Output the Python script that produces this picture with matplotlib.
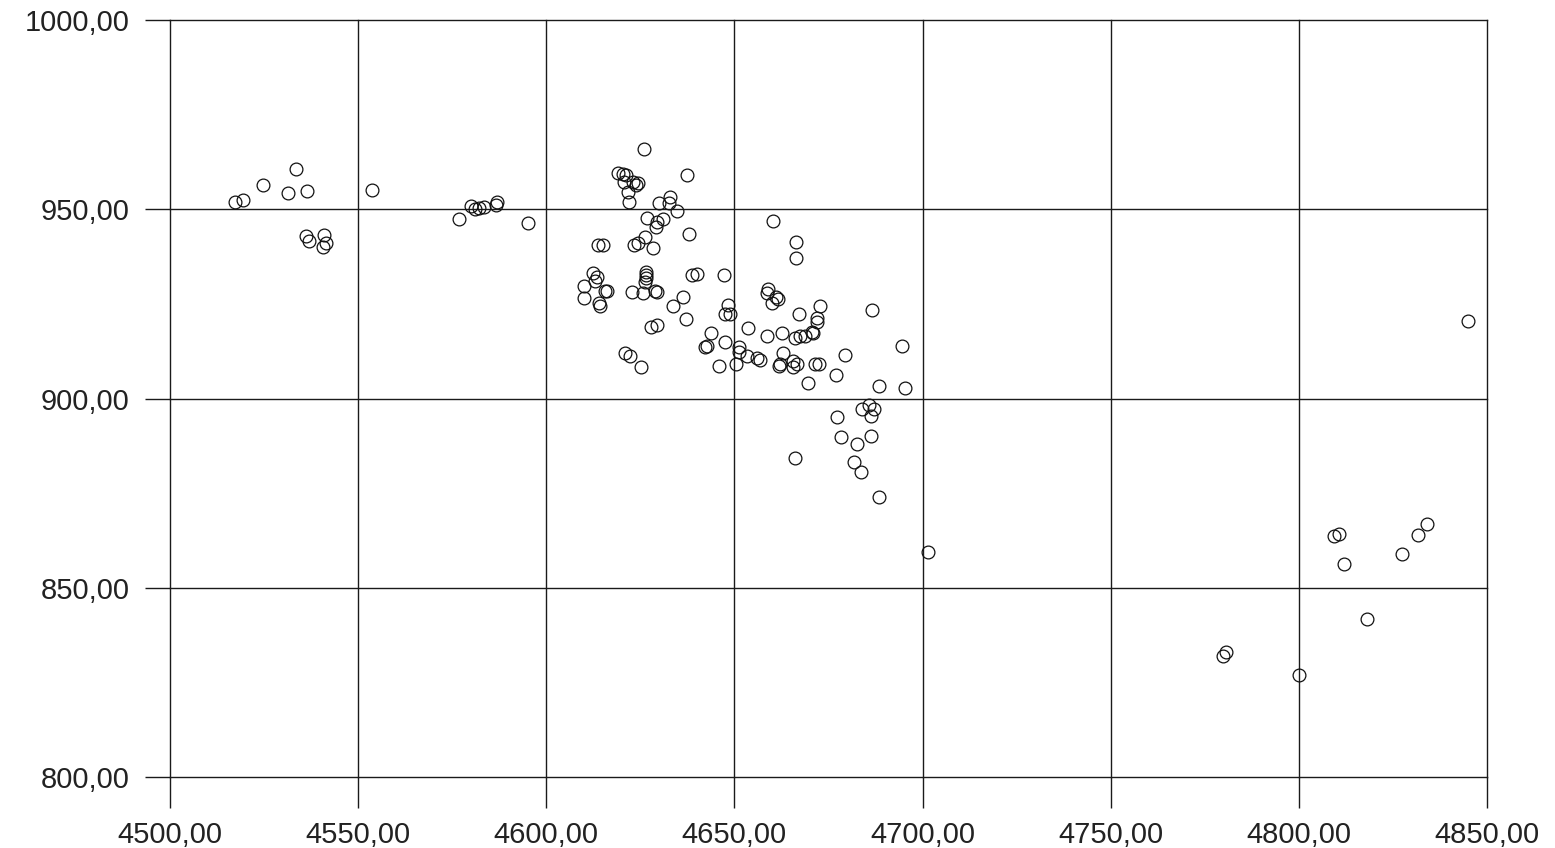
import matplotlib.pyplot as plt
from matplotlib.ticker import FuncFormatter

# 散布データ
x_vals = [
    4517.3, 4519.4, 4524.7, 4533.5, 4531.4, 4536.4, 4536.1, 4536.9, 4540.9, 4541.5,
    4540.7, 4553.7, 4576.8, 4580.0, 4581.1, 4582.1, 4583.4, 4586.9, 4586.6, 4595.1,
    4626.0, 4619.1, 4620.4, 4621.2, 4620.6, 4623.0, 4624.4, 4623.8, 4621.7, 4622.0,
    4637.4, 4632.9, 4630.0, 4632.6, 4634.7, 4626.8, 4631.0, 4629.4, 4629.2, 4626.2,
    4637.9, 4613.7, 4615.1, 4623.3, 4624.4, 4628.4, 4612.4, 4613.5, 4612.9, 4610.0,
    4615.6, 4616.1, 4610.0, 4614.0, 4614.3, 4626.5, 4626.5, 4626.5, 4626.2, 4622.8,
    4625.7, 4629.4, 4628.9, 4638.7, 4640.0, 4647.2, 4636.3, 4633.7, 4637.1, 4627.8,
    4629.4, 4648.3, 4647.5, 4648.8, 4643.8, 4642.7, 4642.2, 4647.5, 4620.9, 4622.2,
    4625.2, 4645.9, 4660.2, 4666.4, 4666.4, 4658.9, 4658.6, 4661.0, 4661.6, 4660.0,
    4672.7, 4667.2, 4686.6, 4671.9, 4671.9, 4653.6, 4651.2, 4651.2, 4658.6, 4662.6,
    4666.1, 4667.4, 4668.8, 4670.9, 4670.6, 4653.3, 4656.0, 4656.8, 4650.4, 4662.9,
    4662.1, 4661.8, 4665.6, 4666.6, 4665.6, 4671.4, 4672.5, 4679.4, 4677.0, 4669.5,
    4688.4, 4694.5, 4695.3, 4685.8, 4683.9, 4687.1, 4686.3, 4677.3, 4678.3, 4682.6,
    4686.3, 4666.1, 4681.8, 4683.6, 4688.4, 4701.4,
    4809.3, 4810.7, 4812.0, 4827.4, 4831.6, 4834.0, 4818.1, 4779.8, 4780.6, 4800.0,
    4844.9,
]
y_vals = [
    952.0, 952.5, 956.5, 960.7, 954.4, 954.9, 943.0, 941.7, 943.3, 941.2,
    940.1, 955.1, 947.5, 950.9, 950.1, 950.4, 950.7, 952.0, 951.2, 946.4,
    966.0, 959.6, 959.4, 959.1, 957.3, 957.3, 957.0, 956.5, 954.6, 952.0,
    959.1, 953.3, 951.7, 951.7, 949.6, 947.8, 947.5, 946.7, 945.4, 942.7,
    943.5, 940.6, 940.6, 940.6, 941.2, 939.8, 933.2, 932.2, 931.1, 929.8,
    928.5, 928.5, 926.6, 925.3, 924.5, 933.5, 932.7, 931.9, 930.9, 928.2,
    928.0, 928.2, 928.5, 932.5, 933.0, 932.5, 926.9, 924.5, 921.1, 919.0,
    919.5, 924.8, 922.2, 922.2, 917.2, 914.0, 913.5, 915.0, 912.1, 911.1,
    908.4, 908.7, 947.0, 941.4, 937.2, 928.8, 928.0, 926.9, 926.4, 925.1,
    924.5, 922.2, 923.5, 921.4, 920.3, 918.5, 913.7, 912.4, 916.6, 917.2,
    916.1, 916.4, 916.6, 917.2, 917.7, 911.3, 910.6, 910.3, 909.2, 911.9,
    909.0, 908.7, 909.8, 909.2, 908.4, 909.0, 909.2, 911.6, 906.1, 904.0,
    903.4, 914.0, 902.9, 898.2, 897.1, 897.1, 895.3, 895.0, 889.7, 888.1,
    890.0, 884.2, 883.1, 880.7, 873.9, 859.4,
    863.6, 864.1, 856.2, 858.8, 863.9, 866.8, 841.7, 831.9, 833.0, 826.9,
    920.6,
]

x_ticks = [4500, 4550, 4600, 4650, 4700, 4750, 4800, 4850]
y_ticks = [800, 850, 900, 950, 1000]

plt.rcParams['font.family'] = ['Liberation Sans', 'DejaVu Sans']

fig = plt.figure(figsize=(15.55, 8.48), dpi=100)
ax = fig.add_axes([170 / 1555, 1 - 777 / 848, 1317 / 1555, 757 / 848])

ax.plot(x_vals, y_vals, linestyle='none', marker='o', markersize=9.2,
        markerfacecolor='none', markeredgecolor='#111111', markeredgewidth=0.9,
        zorder=3)

ax.set_xlim(4500, 4850)
ax.set_ylim(800, 1000)
ax.set_xticks(x_ticks)
ax.set_yticks(y_ticks)

# 小数点はカンマ表記
fmt = FuncFormatter(lambda v, pos: f'{v:.2f}'.replace('.', ','))
ax.xaxis.set_major_formatter(fmt)
ax.yaxis.set_major_formatter(fmt)

for s in ax.spines.values():
    s.set_visible(False)

ax.grid(True, color='#1a1a1a', linewidth=1.0)
ax.set_axisbelow(True)
for gl in ax.get_xgridlines() + ax.get_ygridlines():
    gl.set_clip_on(False)

ax.tick_params(axis='x', direction='out', length=22, width=1.0, color='#1a1a1a',
               pad=10, labelsize=21, labelcolor='#222222')
ax.tick_params(axis='y', direction='out', length=18, width=1.0, color='#1a1a1a',
               pad=11, labelsize=21, labelcolor='#222222')

fig.savefig('out.png', dpi=100, facecolor='white')
